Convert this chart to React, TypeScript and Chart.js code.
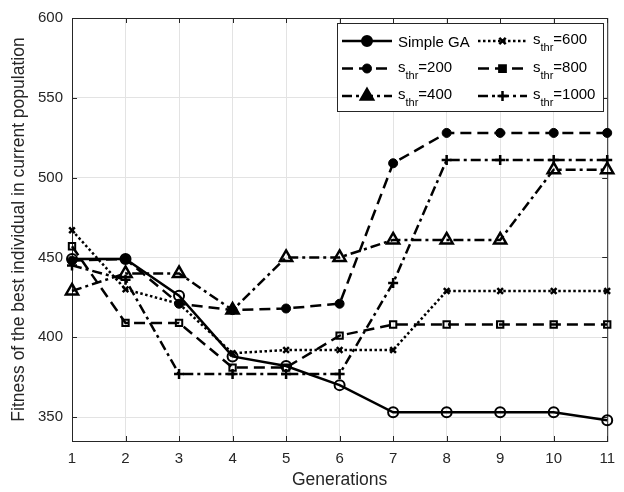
import React, { useEffect, useRef } from "react";
import { Chart, registerables } from "chart.js";

Chart.register(...registerables);

const generations = ["1", "2", "3", "4", "5", "6", "7", "8", "9", "10", "11"];
const yTicks = [350, 400, 450, 500, 550, 600];

const simpleGA = [449, 449, 426, 388, 382, 370, 353, 353, 353, 353, 348];
const sThr200 = [448, 449, 421, 417, 418, 421, 509, 528, 528, 528, 528];
const sThr400 = [429, 440, 440, 417, 450, 450, 461, 461, 461, 505, 505];
const sThr600 = [467, 430, 421, 390, 392, 392, 392, 429, 429, 429, 429];
const sThr800 = [457, 409, 409, 381, 381, 401, 408, 408, 408, 408, 408];
const sThr1000 = [445, 436, 377, 377, 377, 377, 434, 511, 511, 511, 511];

const seriesNames = ["Simple GA", "200", "400", "600", "800", "1000"];

const FONT = "'Liberation Sans', Arial, sans-serif";
const AXIS_COLOR = "#262626";

type Style = {
  dash: number[];
  pointStyle: string;
  radius: number;
  fill: boolean;
  pbw: number;
};

const styles: Style[] = [
  { dash: [], pointStyle: "circle", radius: 5, fill: false, pbw: 2 },
  { dash: [11, 6], pointStyle: "circle", radius: 4.5, fill: true, pbw: 1 },
  { dash: [10, 4, 3, 4], pointStyle: "triangle", radius: 7, fill: false, pbw: 2.5 },
  { dash: [2.5, 2.5], pointStyle: "crossRot", radius: 4, fill: false, pbw: 2.5 },
  { dash: [11, 6], pointStyle: "rect", radius: 4.5, fill: false, pbw: 2 },
  { dash: [10, 4, 3, 4], pointStyle: "cross", radius: 5, fill: false, pbw: 2.5 },
];

function drawMarker(ctx: CanvasRenderingContext2D, st: Style, x: number, y: number) {
  ctx.save();
  ctx.setLineDash([]);
  ctx.strokeStyle = "#000";
  ctx.fillStyle = "#000";
  ctx.lineWidth = st.pbw;
  const r = st.radius;
  ctx.beginPath();
  if (st.pointStyle === "circle") {
    ctx.arc(x, y, r, 0, Math.PI * 2);
    if (st.fill) ctx.fill();
    else {
      ctx.fillStyle = "#fff";
      ctx.fill();
    }
    ctx.stroke();
  } else if (st.pointStyle === "triangle") {
    ctx.moveTo(x, y - r);
    ctx.lineTo(x + r * 0.866, y + r * 0.5);
    ctx.lineTo(x - r * 0.866, y + r * 0.5);
    ctx.closePath();
    ctx.fill();
    ctx.stroke();
  } else if (st.pointStyle === "crossRot") {
    const d = r * 0.8;
    ctx.moveTo(x - d, y - d);
    ctx.lineTo(x + d, y + d);
    ctx.moveTo(x + d, y - d);
    ctx.lineTo(x - d, y + d);
    ctx.stroke();
  } else if (st.pointStyle === "rect") {
    const d = r * 0.75;
    ctx.rect(x - d, y - d, 2 * d, 2 * d);
    ctx.fill();
    ctx.stroke();
  } else if (st.pointStyle === "cross") {
    ctx.moveTo(x - r, y);
    ctx.lineTo(x + r, y);
    ctx.moveTo(x, y - r);
    ctx.lineTo(x, y + r);
    ctx.stroke();
  }
  ctx.restore();
}

const framePlugin = {
  id: "frame",
  beforeDatasetsDraw(chart: any) {
    const { ctx, chartArea } = chart;
    const { left, right, top, bottom } = chartArea;
    ctx.save();
    ctx.strokeStyle = AXIS_COLOR;
    ctx.lineWidth = 1;
    ctx.setLineDash([]);
    ctx.strokeRect(left + 0.5, top + 0.5, right - left, bottom - top);
    const xs = chart.scales.x;
    const ys = chart.scales.y;
    const tl = 5;
    ctx.beginPath();
    xs.ticks.forEach((_t: any, i: number) => {
      const px = Math.round(xs.getPixelForTick(i)) + 0.5;
      ctx.moveTo(px, bottom);
      ctx.lineTo(px, bottom - tl);
      ctx.moveTo(px, top);
      ctx.lineTo(px, top + tl);
    });
    ys.ticks.forEach((t: any) => {
      const py = Math.round(ys.getPixelForValue(t.value)) + 0.5;
      ctx.moveTo(left, py);
      ctx.lineTo(left + tl, py);
      ctx.moveTo(right, py);
      ctx.lineTo(right - tl, py);
    });
    ctx.stroke();
    ctx.restore();
  },
};

const legendPlugin = {
  id: "customLegend",
  afterDatasetsDraw(chart: any) {
    const { ctx } = chart;
    const bx = 337, by = 23, bw = 266, bh = 88;
    ctx.save();
    ctx.fillStyle = "#fff";
    ctx.fillRect(bx, by, bw, bh);
    ctx.strokeStyle = AXIS_COLOR;
    ctx.lineWidth = 1;
    ctx.setLineDash([]);
    ctx.strokeRect(bx + 0.5, by + 0.5, bw, bh);
    const cols = [
      { lx0: 342, lx1: 392, tx: 398 },
      { lx0: 478, lx1: 527, tx: 533 },
    ];
    for (let i = 0; i < 6; i++) {
      const col = cols[Math.floor(i / 3)];
      const row = i % 3;
      const yc = 41 + row * 27.5;
      const st = styles[i];
      ctx.save();
      ctx.strokeStyle = "#000";
      ctx.lineWidth = 2.5;
      ctx.setLineDash(st.dash);
      ctx.beginPath();
      ctx.moveTo(col.lx0, yc);
      ctx.lineTo(col.lx1, yc);
      ctx.stroke();
      ctx.restore();
      drawMarker(ctx, { ...st, fill: true }, (col.lx0 + col.lx1) / 2, yc);
      ctx.fillStyle = "#000";
      ctx.textAlign = "left";
      ctx.textBaseline = "alphabetic";
      if (i === 0) {
        ctx.font = `15px ${FONT}`;
        ctx.fillText(seriesNames[0], col.tx, yc + 5.5);
      } else {
        const base = yc + 3;
        ctx.font = `15px ${FONT}`;
        ctx.fillText("s", col.tx, base);
        const sw = ctx.measureText("s").width;
        ctx.font = `11px ${FONT}`;
        ctx.fillText("thr", col.tx + sw, base + 7);
        const subw = ctx.measureText("thr").width;
        ctx.font = `15px ${FONT}`;
        ctx.fillText("=" + seriesNames[i], col.tx + sw + subw, base);
      }
    }
    ctx.restore();
  },
};

export default function App() {
  const canvasRef = useRef<HTMLCanvasElement | null>(null);

  useEffect(() => {
    document.body.style.margin = "0";
    const canvas = canvasRef.current;
    if (!canvas) return;
    const allData = [simpleGA, sThr200, sThr400, sThr600, sThr800, sThr1000];
    const datasets = allData.map((d, i) => {
      const st = styles[i];
      return {
        label: i === 0 ? seriesNames[0] : "s_thr=" + seriesNames[i],
        data: d,
        borderColor: "#000",
        borderWidth: 2.5,
        borderDash: st.dash,
        pointStyle: st.pointStyle,
        pointRadius: st.radius,
        pointBorderWidth: st.pbw,
        pointBorderColor: "#000",
        pointBackgroundColor: st.fill ? "#000" : "rgba(0,0,0,0)",
        fill: false,
        tension: 0,
        clip: false,
      };
    });
    const chart = new Chart(canvas, {
      type: "line",
      data: { labels: generations, datasets: datasets as any },
      options: {
        animation: false,
        responsive: true,
        maintainAspectRatio: false,
        layout: { padding: { top: 10, right: 9.5, left: 0, bottom: 0 } },
        plugins: { legend: { display: false }, tooltip: { enabled: false } },
        scales: {
          x: {
            type: "category",
            offset: false,
            grid: { color: "#e3e3e3", drawTicks: false, lineWidth: 1 },
            border: { display: false },
            ticks: {
              color: AXIS_COLOR,
              font: { family: FONT, size: 15 },
              padding: 9,
              maxRotation: 0,
              autoSkip: false,
            },
            title: {
              display: true,
              text: "Generations",
              color: AXIS_COLOR,
              font: { family: FONT, size: 17.5 },
              padding: { top: 0, bottom: 1 },
            },
            afterFit: (scale: any) => {
              scale.height = 51;
            },
          },
          y: {
            type: "linear",
            min: 335,
            max: 600,
            grid: { color: "#e3e3e3", drawTicks: false, lineWidth: 1 },
            border: { display: false },
            ticks: {
              color: AXIS_COLOR,
              font: { family: FONT, size: 15 },
              padding: 9,
            },
            afterBuildTicks: (scale: any) => {
              scale.ticks = yTicks.map((v) => ({ value: v }));
            },
            title: {
              display: true,
              text: "Fitness of the best individual in current population",
              color: AXIS_COLOR,
              font: { family: FONT, size: 17.5 },
              padding: { top: 9, bottom: 0 },
            },
            afterFit: (scale: any) => {
              scale.width = 72;
            },
          },
        },
      },
      plugins: [framePlugin, legendPlugin],
    });
    return () => chart.destroy();
  }, []);

  return (
    <div style={{ width: 624, height: 492, position: "relative" }}>
      <canvas ref={canvasRef} />
    </div>
  );
}
